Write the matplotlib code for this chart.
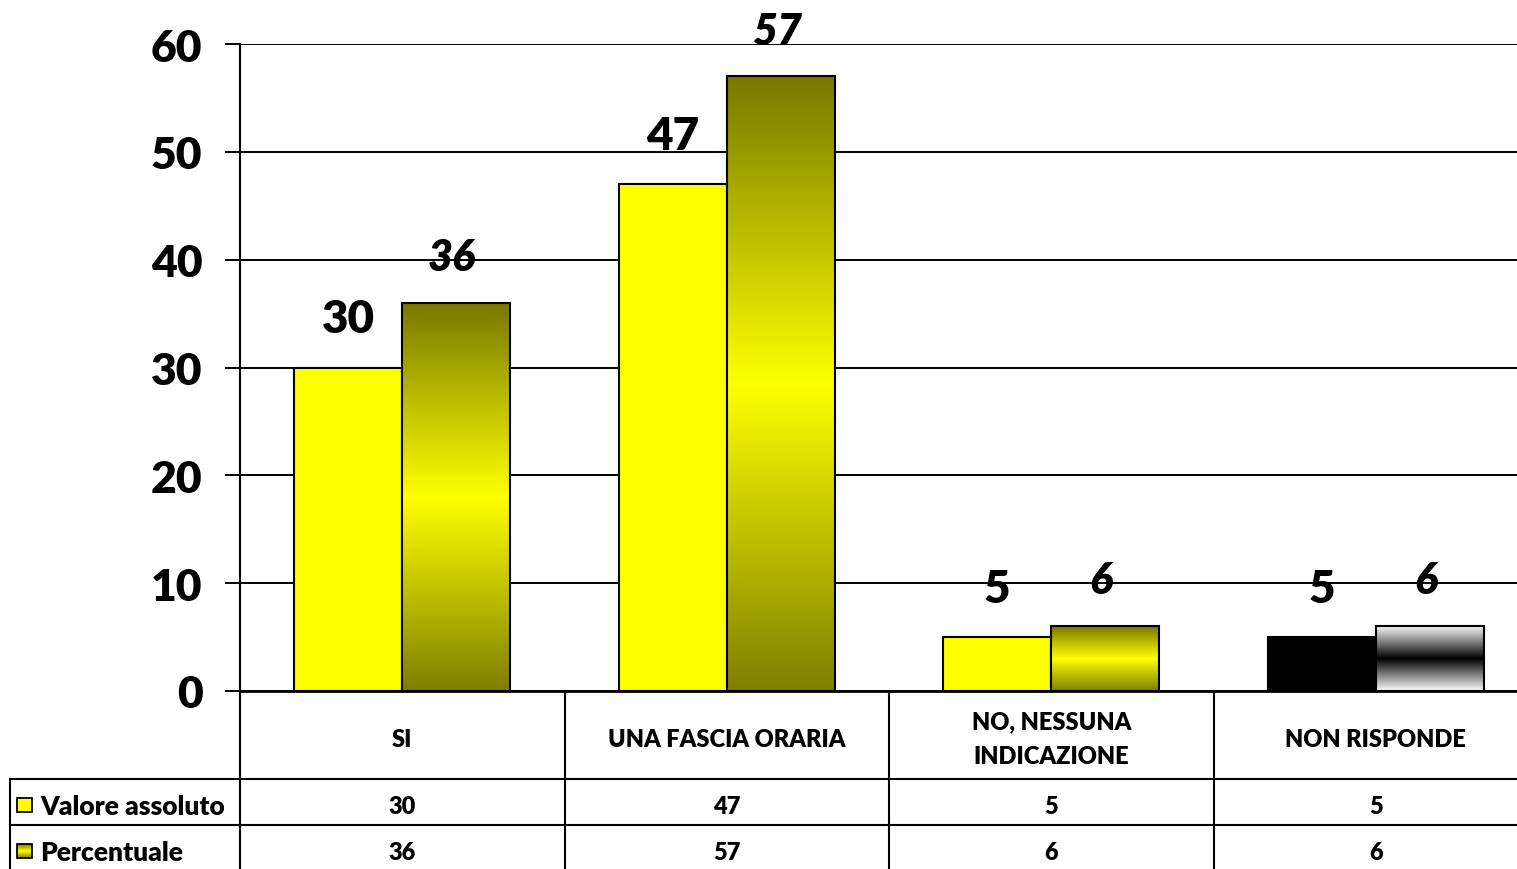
import matplotlib
import numpy as np

matplotlib.use("Agg")
import matplotlib.pyplot as plt
from matplotlib.colors import LinearSegmentedColormap
from matplotlib.patches import Rectangle

plt.rcParams["font.family"] = ["Lato", "DejaVu Sans"]
plt.rcParams["font.weight"] = "heavy"

categories = ["SI", "UNA FASCIA ORARIA", "NO, NESSUNA\nINDICAZIONE", "NON RISPONDE"]
valore_assoluto = [30, 47, 5, 5]
percentuale = [36, 57, 6, 6]
row_labels = ["Valore assoluto", "Percentuale"]
y_ticks = [0, 10, 20, 30, 40, 50, 60]

W, H = 1517, 870
left_px, top_px, bottom_px = 240, 45, 692
col_px = 324.5
x_max = (W - left_px) / col_px

olive = LinearSegmentedColormap.from_list("olive", ["#787800", "#ffff00", "#7f7f00"])
greys = LinearSegmentedColormap.from_list("greys", ["#f8f8f8", "#000000", "#ffffff"])
grad = np.linspace(0, 1, 256).reshape(-1, 1)

fig = plt.figure(figsize=(W / 100, H / 100), dpi=100)
ax = fig.add_axes([left_px / W, (H - bottom_px) / H, (W - left_px) / W, (bottom_px - top_px) / H])

bw = 1 / 3
x = np.arange(len(categories)) + 0.5
solid_colors = ["#ffff00", "#ffff00", "#ffff00", "#000000"]
grad_maps = [olive, olive, olive, greys]

ax.bar(x - bw / 2, valore_assoluto, bw, color=solid_colors, edgecolor="black", lw=1.5, zorder=3)
bars = ax.bar(x + bw / 2, percentuale, bw, facecolor="none", edgecolor="black", lw=1.5, zorder=4)
for b, cm in zip(bars, grad_maps):
    x0, h = b.get_x(), b.get_height()
    ax.imshow(grad, cmap=cm, extent=(x0, x0 + bw, 0, h), aspect="auto",
              interpolation="bilinear", zorder=3.5)

for xi, v in zip(x - bw / 2, valore_assoluto):
    ax.annotate(str(v), (xi, v), xytext=(0, 35), textcoords="offset points",
                ha="center", va="center", fontsize=33)
for xi, v in zip(x + bw / 2, percentuale):
    ax.annotate(str(v), (xi, v), xytext=(-3, 33), textcoords="offset points",
                ha="center", va="center", fontsize=31, fontstyle="italic")

ax.set_xlim(0, x_max)
ax.set_ylim(0, 60)
ax.set_xticks([])
ax.set_yticks(y_ticks)
ax.tick_params(axis="y", length=11, width=1.4, pad=16, labelsize=32)
ax.grid(axis="y", color="black", lw=1.4, zorder=0)
ax.set_axisbelow(True)
for s in ["top", "right"]:
    ax.spines[s].set_visible(False)
ax.spines["left"].set_linewidth(1.5)
ax.spines["bottom"].set_linewidth(2)

# data table under the chart
tab = fig.add_axes([left_px / W, 0, (W - left_px) / W, (H - bottom_px) / H])
row_edges = [0, 88, 134, 178]
label_x0 = -(left_px - 10) / col_px
for i in range(len(categories)):
    tab.plot([i, i], [0, 178], color="black", lw=1.5, clip_on=False)
for y in row_edges[1:3]:
    tab.plot([label_x0, x_max], [y, y], color="black", lw=1.5, clip_on=False)
tab.plot([label_x0, label_x0], [88, 178], color="black", lw=1.5, clip_on=False)

for xi, c in zip(x, categories):
    tab.text(xi, 48, c, ha="center", va="center", fontsize=17, linespacing=1.7)
for xi, a, p in zip(x, valore_assoluto, percentuale):
    tab.text(xi, 115, str(a), ha="center", va="center", fontsize=17)
    tab.text(xi, 161, str(p), ha="center", va="center", fontsize=17)

sq_x = (17 - left_px) / col_px
sq_w = 15 / col_px
for yc, lab, kind in zip([114, 160], row_labels, ["solid", "grad"]):
    tab.text((40 - left_px) / col_px, yc + 1, lab, ha="left", va="center", fontsize=19)
    if kind == "solid":
        tab.add_patch(Rectangle((sq_x, yc - 7), sq_w, 14, facecolor="#ffff00", edgecolor="black",
                                lw=1.3, clip_on=False))
    else:
        im = tab.imshow(grad, cmap=olive, extent=(sq_x, sq_x + sq_w, yc + 7, yc - 7),
                        aspect="auto", interpolation="bilinear")
        im.set_clip_on(False)
        tab.add_patch(Rectangle((sq_x, yc - 7), sq_w, 14, facecolor="none", edgecolor="black",
                                lw=1.3, clip_on=False))

tab.set_xlim(0, x_max)
tab.set_ylim(178, 0)
tab.axis("off")

fig.savefig("out.png", dpi=100)
